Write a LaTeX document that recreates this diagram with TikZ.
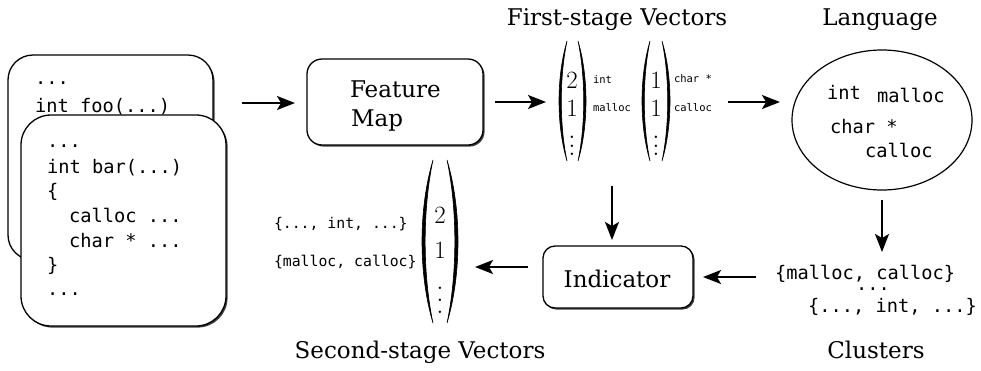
\documentclass[tikz,border=0pt]{standalone}
\usepackage[no-math]{fontspec}
\setmainfont{DejaVu Serif}
\setmonofont{DejaVu Sans Mono}
\usetikzlibrary{arrows.meta,shadows,shapes.geometric}

\newcommand\dotcol[1]{\vbox{\baselineskip=#1pt\lineskiplimit=-20pt\hbox{$.$}\hbox{$.$}\hbox{$.$}}}
% #1 end x, #2 top y, #3 bottom y, #4 signed bulge
\newcommand\vparen[4]{%
  \filldraw[line width=0.6pt] ({#1},{#2})
    .. controls ({#1+1.333*(#4)},{#2+0.3*(#3-#2)}) and ({#1+1.333*(#4)},{#3-0.3*(#3-#2)}) .. ({#1},{#3})
    .. controls ({#1+0.95*(#4)},{#3-0.3*(#3-#2)}) and ({#1+0.95*(#4)},{#2+0.3*(#3-#2)}) .. cycle;}

\begin{document}
\begin{tikzpicture}[x=1pt,y=-1pt,
  every node/.style={inner sep=0pt, outer sep=0pt},
  code/.style={font=\ttfamily\fontsize{18.7}{22}\selectfont, anchor=base west},
  serif/.style={font=\fontsize{23}{29}\selectfont},
  tinycode/.style={font=\ttfamily\fontsize{10.5}{12}\selectfont, anchor=base west},
  smallcode/.style={font=\ttfamily\fontsize{14.8}{17}\selectfont, anchor=base west},
  num/.style={font=\fontsize{23}{27}\selectfont},
  dots/.style={font=\fontsize{27}{30}\selectfont, anchor=base},
  rbox/.style={draw=black, line width=1.3pt, fill=white, rounded corners=#1,
    drop shadow={shadow xshift=1.6pt, shadow yshift=-1.6pt, fill=black!75, opacity=1}},
  arr/.style={line width=1.8pt, -{Stealth[length=18pt,width=14pt,inset=4pt]}},
]
\useasboundingbox (0,0) rectangle (981,370);

% code boxes
\node[rbox=25, minimum width=205, minimum height=205] (back) at (110.5,157.5) {};
\node[code] (b1) at (35,84) {...};
\node[code] (b2) at (35,112) {int foo(...)};
\node[rbox=30, minimum width=205, minimum height=211] (front) at (123.5,220.5) {};
\node[code] (f1) at (47,147) {...};
\node[code] (f2) at (47,173) {int bar(...)};
\node[code] (f3) at (47,197) {\{};
\node[code] (f4) at (69,222) {calloc ...};
\node[code] (f5) at (69,247) {char * ...};
\node[code] (f6) at (47,271) {\}};
\node[code] (f7) at (47,295) {...};

% feature map
\node[rbox=15, minimum width=176, minimum height=86] (fm) at (395,102) {};
\node[serif, anchor=base west] (fm1) at (350,97) {Feature};
\node[serif, anchor=base west] (fm2) at (351,126) {Map};

% first-stage vectors
\node[serif, anchor=base] (t1) at (617,25) {First-stage Vectors};
\vparen{567}{41}{161}{-8}
\vparen{578}{41}{161}{8}
\node[num] (v1a) at (572,80) {$2$};
\node[num] (v1b) at (572,108) {$1$};
\node[dots] (v1c) at (572,155.5) {\dotcol{8.5}};
\node[tinycode] (l1a) at (593,83) {int};
\node[tinycode] (l1b) at (593,111) {malloc};
\vparen{650}{41}{161}{-8}
\vparen{662}{41}{161}{8}
\node[num] (v2a) at (656,80) {$1$};
\node[num] (v2b) at (656,108) {$1$};
\node[dots] (v2c) at (656,155.5) {\dotcol{8.5}};
\node[tinycode] (l2a) at (674,82) {char *};
\node[tinycode] (l2b) at (674,111) {calloc};

% language
\node[serif, anchor=base] (t2) at (880,25) {Language};
\node[draw, ellipse, line width=1.2pt, minimum width=180, minimum height=140] (lang) at (882,120) {};
\node[code] (e1) at (827,99) {int};
\node[code] (e2) at (877,102) {malloc};
\node[code] (e3) at (830,133) {char *};
\node[code] (e4) at (865,157) {calloc};

% clusters
\node[code] (c1) at (775,279) {\{malloc, calloc\}};
\node[code, anchor=base] (c2) at (873,290) {...};
\node[code] (c3) at (808,312) {\{..., int, ...\}};
\node[serif, anchor=base] (t3) at (876,358) {Clusters};

% indicator
\node[rbox=12, minimum width=150, minimum height=62] (ind) at (618,277) {};
\node[serif, anchor=base] (indt) at (617,287) {Indicator};

% second-stage vectors
\vparen{433}{160}{323}{-11}
\vparen{447}{160}{323}{11}
\node[num] (w1) at (440,215) {$2$};
\node[num] (w2) at (440,250) {$1$};
\node[dots] (w3) at (440,313.5) {\dotcol{12}};
\node[smallcode] (s1) at (274,228) {\{..., int, ...\}};
\node[smallcode] (s2) at (274,266) {\{malloc, calloc\}};
\node[serif, anchor=base] (t4) at (420,358) {Second-stage Vectors};

% arrows
\coordinate (a1s) at (242,103); \coordinate (a1e) at (295,103);
\coordinate (a2s) at (495,102); \coordinate (a2e) at (546,102);
\coordinate (a3s) at (728,102); \coordinate (a3e) at (780,102);
\coordinate (a4s) at (612,186); \coordinate (a4e) at (612,240);
\coordinate (a5s) at (882,200); \coordinate (a5e) at (882,252);
\coordinate (a6s) at (756,277); \coordinate (a6e) at (703,277);
\coordinate (a7s) at (528,267); \coordinate (a7e) at (475,267);
\draw[arr] (a1s) -- (a1e);
\draw[arr] (a2s) -- (a2e);
\draw[arr] (a3s) -- (a3e);
\draw[arr] (a4s) -- (a4e);
\draw[arr] (a5s) -- (a5e);
\draw[arr] (a6s) -- (a6e);
\draw[arr] (a7s) -- (a7e);
\end{tikzpicture}
\end{document}
